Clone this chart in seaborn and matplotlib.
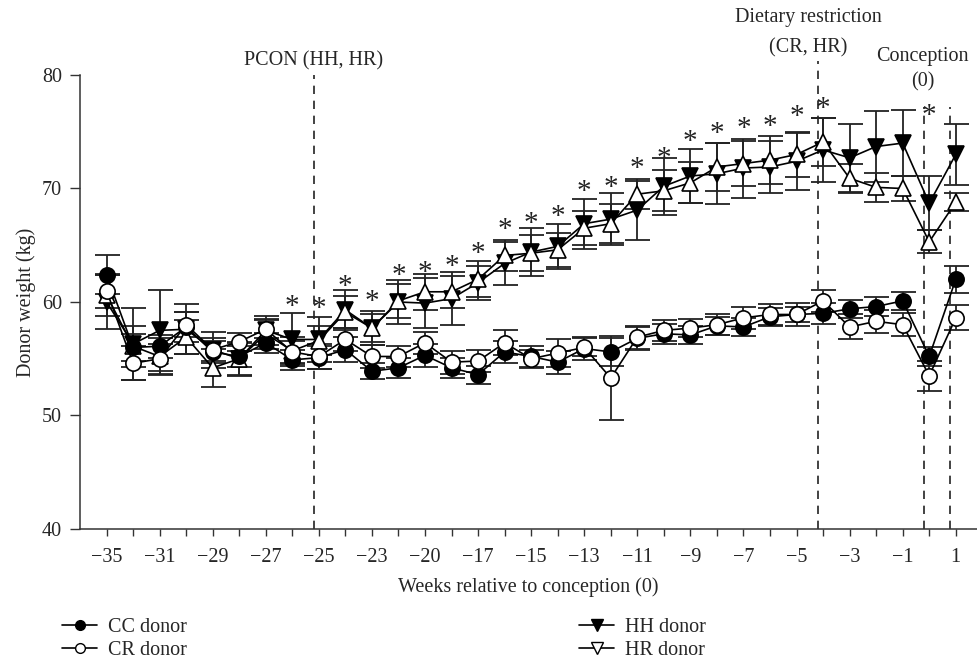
import numpy as np
import pandas as pd
import matplotlib
matplotlib.use("Agg")
import matplotlib.pyplot as plt
import matplotlib.transforms as mtransforms
from matplotlib.lines import Line2D
import seaborn as sns

# ---------------- data ----------------
tick_labels = ["\u221235", "", "\u221231", "", "\u221229", "", "\u221227", "", "\u221225", "",
               "\u221223", "", "\u221220", "", "\u221217", "", "\u221215", "", "\u221213", "",
               "\u221211", "", "\u22129", "", "\u22127", "", "\u22125", "", "\u22123", "",
               "\u22121", "", "1"]

cc = [62.4, 56.0, 56.1, 57.8, 55.6, 55.2, 56.4, 54.9, 55.1, 55.8, 53.9, 54.2, 55.3, 54.2, 53.6, 55.6, 55.2,
      54.7, 55.9, 55.6, 56.8, 57.2, 57.1, 57.9, 57.8, 58.7, 58.9, 59.0, 59.4, 59.6, 60.1, 55.2, 62.0]
cr = [61.0, 54.6, 55.0, 58.0, 55.8, 56.5, 57.6, 55.6, 55.2, 56.7, 55.2, 55.2, 56.4, 54.7, 54.8, 56.4, 55.0,
      55.5, 56.0, 53.3, 56.9, 57.5, 57.7, 58.0, 58.6, 58.9, 58.9, 60.1, 57.8, 58.3, 58.0, 53.5, 58.6]
hh = [60.0, 56.3, 57.5, 57.6, 55.8, 55.0, 57.5, 56.7, 56.7, 59.3, 57.7, 60.0, 59.9, 60.3, 61.7, 63.4, 64.4,
      64.9, 66.9, 67.3, 68.1, 70.2, 71.1, 71.3, 71.8, 71.9, 72.4, 73.4, 72.7, 73.7, 74.0, 68.7, 73.0]
hr = [60.6, 56.1, 55.2, 56.9, 54.2, 55.0, 57.2, 55.7, 56.6, 59.1, 57.7, 60.1, 60.9, 60.9, 62.0, 64.1, 64.3,
      64.6, 66.5, 66.9, 69.5, 69.8, 70.5, 71.9, 72.2, 72.5, 73.0, 74.1, 70.9, 70.1, 70.0, 65.3, 68.8]

cc_err = [1.7, 1.2, 1.0, 1.3, 1.0, 0.9, 0.9, 0.9, 1.0, 1.1, 0.7, 0.9, 1.0, 0.9, 0.8, 1.0, 0.9,
          1.0, 1.0, 1.2, 1.0, 0.9, 0.8, 0.8, 0.8, 0.8, 0.7, 0.9, 0.8, 0.8, 0.8, 0.8, 1.2]
cr_err = [1.5, 1.5, 1.3, 1.1, 1.0, 0.8, 0.8, 1.0, 1.1, 1.0, 1.0, 0.9, 1.0, 1.0, 1.0, 1.1, 0.8,
          1.2, 0.8, 3.7, 1.0, 0.9, 0.8, 0.9, 1.0, 0.9, 1.0, 1.0, 1.1, 1.0, 1.0, 1.3, 1.1]
hh_err = [2.4, 3.2, 3.6, 2.2, 1.6, 1.5, 1.3, 2.3, 2.0, 1.8, 1.5, 1.9, 2.2, 2.3, 1.5, 1.9, 2.1,
          2.0, 2.2, 2.3, 2.6, 2.5, 2.4, 2.7, 2.6, 2.3, 2.5, 2.8, 3.0, 3.1, 2.9, 2.4, 2.7]
hr_err = [1.8, 1.8, 1.6, 1.5, 1.7, 1.4, 1.3, 1.2, 1.3, 1.4, 1.2, 1.5, 1.6, 1.4, 1.6, 1.4, 1.6,
          1.5, 1.5, 1.7, 1.3, 1.8, 1.8, 2.1, 2.0, 2.1, 2.0, 2.1, 1.3, 1.3, 1.1, 1.0, 0.8]

sig_idx = [7, 8, 9, 10, 11, 12, 13, 14, 15, 16, 17, 18, 19, 20, 21, 22, 23, 24, 25, 26, 27, 31]
sig_y = [60.0, 59.9, 61.8, 60.5, 62.8, 63.0, 63.6, 64.7, 66.8, 67.4, 68.0, 70.2, 70.5, 72.2, 73.1,
         74.6, 75.3, 75.7, 75.9, 76.8, 77.5, 76.9]

series_names = ["CC donor", "CR donor", "HH donor", "HR donor"]

# event lines: (position in category units, top of line in kg)
event_pos = [7.8, 26.8, 30.8, 31.8]
event_top = [80.0, 81.2, 77.2, 77.2]

# ---------------- figure ----------------
sns.set_theme(style="ticks")
plt.rcParams["font.family"] = ["Liberation Serif", "DejaVu Serif"]
FS = 14.5

fig = plt.figure(figsize=(9.77, 6.63), dpi=100)
ax = fig.add_axes([80 / 977, 134 / 663, 897 / 977, 454 / 663])

x = np.arange(len(cc))
df = pd.DataFrame({"week_idx": np.tile(x, 4),
                   "weight": np.concatenate([cc, cr, hh, hr]),
                   "group": np.repeat(series_names, len(cc))})

errs = [cc_err, cr_err, hh_err, hr_err]
vals = [cc, cr, hh, hr]
for v, e in zip(vals, errs):
    ax.errorbar(x, v, yerr=e, fmt="none", ecolor="#222222", elinewidth=1.3,
                capsize=9, capthick=1.3, zorder=2)

styles = {
    "HH donor": dict(marker="v", markerfacecolor="black", markersize=12),
    "HR donor": dict(marker="^", markerfacecolor="white", markersize=12),
    "CC donor": dict(marker="o", markerfacecolor="black", markersize=11),
    "CR donor": dict(marker="o", markerfacecolor="white", markersize=11),
}
for name in ["HH donor", "HR donor", "CC donor", "CR donor"]:
    sub = df[df["group"] == name]
    sns.lineplot(data=sub, x="week_idx", y="weight", ax=ax, color="black", linewidth=1.2,
                 markeredgecolor="black", markeredgewidth=1.2, legend=False, zorder=3,
                 **styles[name])

# event dashed lines
for p, t in zip(event_pos, event_top):
    ax.plot([p, p], [40, t], color="#222222", linestyle=(0, (5, 4)), linewidth=1.2,
            clip_on=False, zorder=1)

# significance asterisks
toff = mtransforms.offset_copy(ax.transData, fig=fig, x=0, y=-9, units="points")
for i, yv in zip(sig_idx, sig_y):
    ax.text(i, yv, "*", transform=toff, ha="center", va="baseline", fontsize=21, color="#222222")

# annotation texts
ax.text(event_pos[0], 81.25, "PCON (HH, HR)", ha="center", va="center", fontsize=FS, clip_on=False)
ax.text(event_pos[1] - 0.35, 85.05, "Dietary restriction", ha="center", va="center", fontsize=FS, clip_on=False)
ax.text(event_pos[1] - 0.35, 82.4, "(CR, HR)", ha="center", va="center", fontsize=FS, clip_on=False)
ax.text(event_pos[2] - 0.05, 81.65, "Conception", ha="center", va="center", fontsize=FS, clip_on=False)
ax.text(event_pos[2] - 0.05, 79.4, "(0)", ha="center", va="center", fontsize=FS, clip_on=False)

# axes
ax.set_xlim(-1.0, 32.8)
ax.set_ylim(40, 80)
ax.set_xticks(x)
ax.set_xticklabels(tick_labels, fontsize=FS)
ax.set_yticks([40, 50, 60, 70, 80])
ax.set_yticklabels(["40", "50", "60", "70", "80"], fontsize=FS)
ax.tick_params(axis="x", direction="out", length=5, width=1.0, color="#333333", pad=9)
ax.tick_params(axis="y", direction="out", length=7, width=1.0, color="#333333", pad=6)
for s in ["left", "bottom"]:
    ax.spines[s].set_linewidth(1.1)
    ax.spines[s].set_color("#333333")
sns.despine(ax=ax)
ax.set_xlabel("Weeks relative to conception (0)", fontsize=FS, labelpad=7)
ax.set_ylabel("Donor weight (kg)", fontsize=FS, labelpad=4)
ax.grid(False)

# legend
handles = [
    Line2D([], [], color="black", lw=1.2, marker="o", markersize=7, markerfacecolor="black", markeredgecolor="black"),
    Line2D([], [], color="black", lw=1.2, marker="o", markersize=7, markerfacecolor="white", markeredgecolor="black"),
    Line2D([], [], color="black", lw=1.2, marker="v", markersize=8, markerfacecolor="black", markeredgecolor="black"),
    Line2D([], [], color="black", lw=1.2, marker="v", markersize=8, markerfacecolor="white", markeredgecolor="black"),
]
fig.legend(handles, series_names, loc="upper left", bbox_to_anchor=(62 / 977, (663 - 618) / 663),
           ncol=2, frameon=False, fontsize=FS, handlelength=1.75, handletextpad=0.55,
           labelspacing=0.2, columnspacing=19.45, borderpad=0, borderaxespad=0)

fig.savefig("out.png", dpi=100)
